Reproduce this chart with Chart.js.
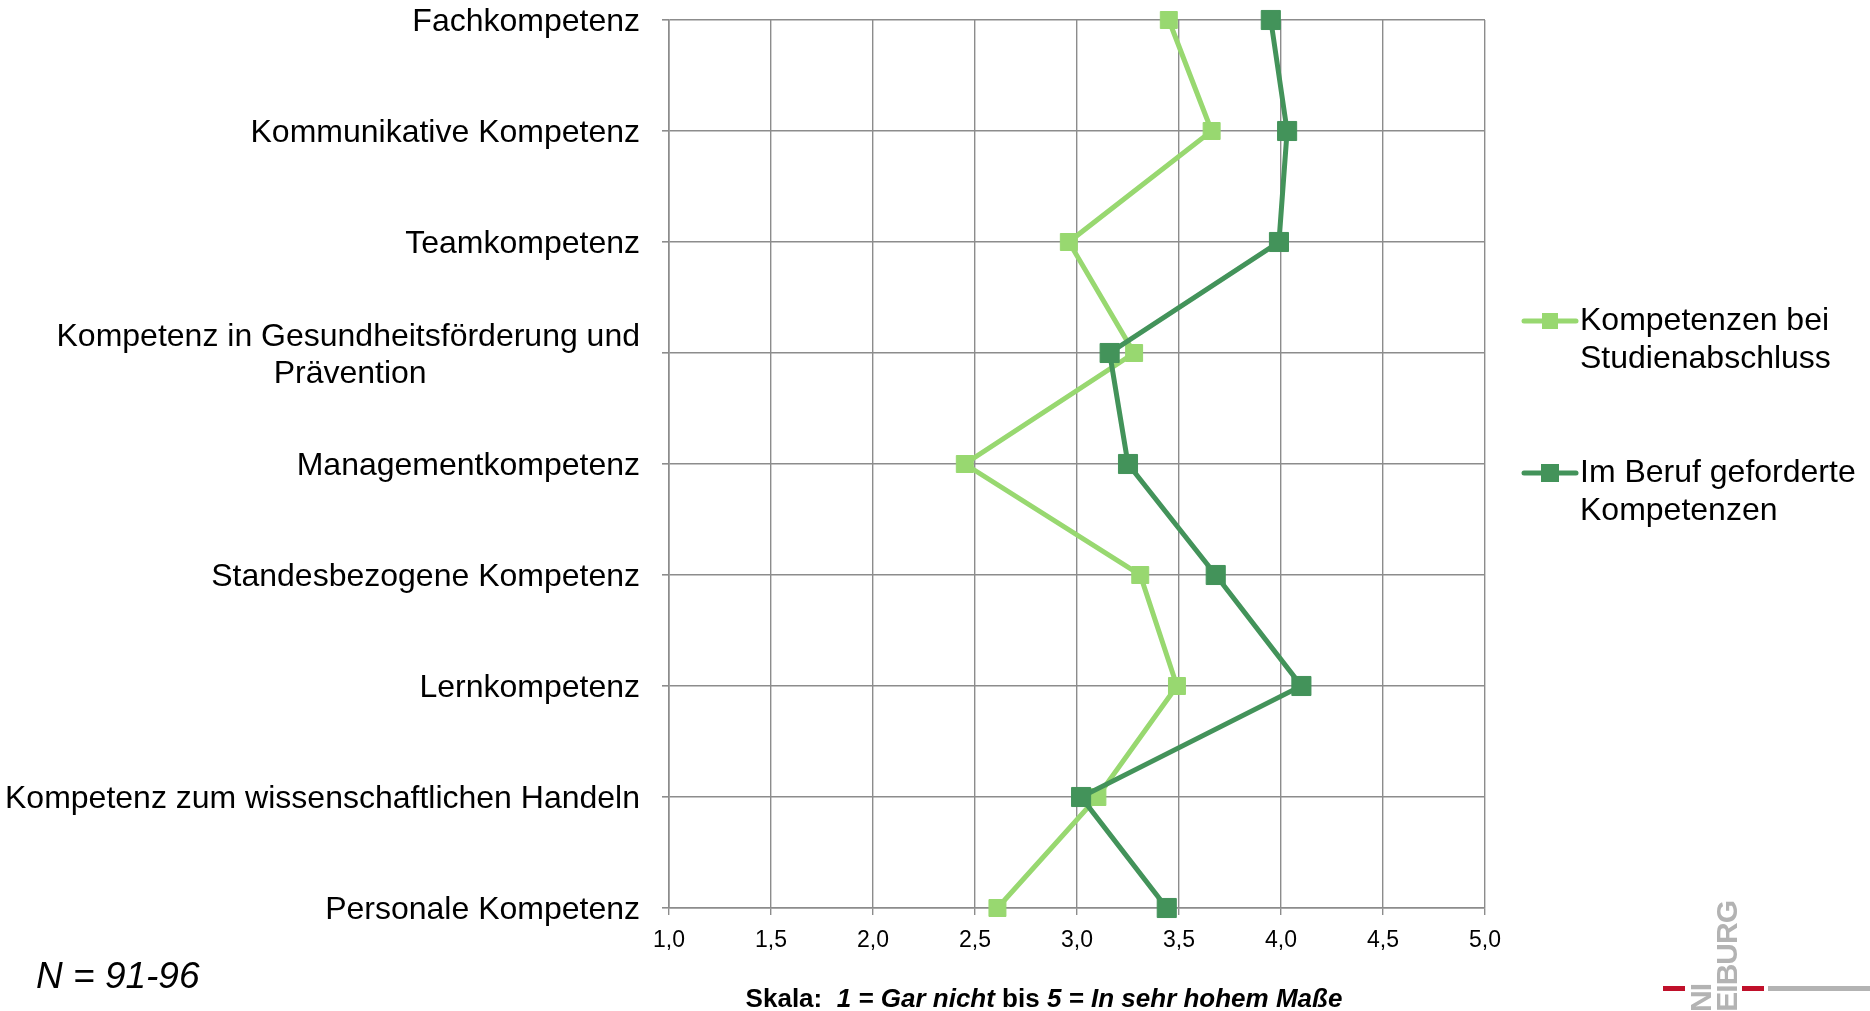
<!DOCTYPE html>
<html lang="de">
<head>
<meta charset="utf-8">
<title>Kompetenzen</title>
<script src="https://cdn.jsdelivr.net/npm/chart.js@4/dist/chart.umd.min.js"></script>
<style>
  html, body { margin: 0; padding: 0; background: #fff; }
  .wrap { position: relative; width: 1870px; height: 1011px; }
</style>
</head>
<body>
<div class="wrap"><canvas id="chart"></canvas></div>
<script>
/* ── DATA ─────────────────────────────────────────────────── */
const categories = [
  'Fachkompetenz',
  'Kommunikative Kompetenz',
  'Teamkompetenz',
  ['Kompetenz in Gesundheitsförderung und', 'Prävention'],
  'Managementkompetenz',
  'Standesbezogene Kompetenz',
  'Lernkompetenz',
  'Kompetenz zum wissenschaftlichen Handeln',
  'Personale Kompetenz'
];
const seriesNames = [
  ['Kompetenzen bei', 'Studienabschluss'],
  ['Im Beruf geforderte', 'Kompetenzen']
];
const studienabschluss = [3.45, 3.66, 2.96, 3.28, 2.45, 3.31, 3.49, 3.10, 2.61];
const beruf = [3.95, 4.03, 3.99, 3.16, 3.25, 3.68, 4.10, 3.02, 3.44];
const scaleMin = 1, scaleMax = 5, scaleStep = 0.5;
const sampleNote = 'N = 91-96';

/* ── STYLE ────────────────────────────────────────────────── */
const FONT = "'Liberation Sans', Arial, sans-serif";
const LIGHT = '#98d870';
const DARK = '#43935a';
const GRID = '#8c8c8c';

// right-aligned block, but centre the lines of a wrapped label inside it
const measureCtx = document.createElement('canvas').getContext('2d');
function centreLines(lines, font) {
  if (!Array.isArray(lines)) return lines;
  measureCtx.font = font;
  const w = lines.map(l => measureCtx.measureText(l).width);
  const max = Math.max(...w);
  const sp = measureCtx.measureText(' ').width;
  return lines.map((l, i) => l + ' '.repeat(Math.round((max - w[i]) / 2 / sp)));
}

/* ── PLUGIN: legend, notes, logo ──────────────────────────── */
const extras = {
  id: 'extras',
  afterDraw(chart) {
    const ctx = chart.ctx;
    ctx.save();

    // legend
    const legendY = [321, 473];
    chart.data.datasets.forEach((ds, i) => {
      const y = legendY[i];
      ctx.strokeStyle = ds.borderColor;
      ctx.lineWidth = 5;
      ctx.lineCap = 'round';
      ctx.beginPath();
      ctx.moveTo(1524, y);
      ctx.lineTo(1576, y);
      ctx.stroke();
      ctx.fillStyle = ds.borderColor;
      const s = i === 0 ? 16 : 18;
      ctx.fillRect(1550 - s / 2, y - s / 2, s, s);
      ctx.fillStyle = '#000';
      ctx.font = '32px ' + FONT;
      ctx.textAlign = 'left';
      ctx.textBaseline = 'middle';
      seriesNames[i].forEach((t, k) => ctx.fillText(t, 1580, y + k * 38));
    });

    // N note
    ctx.font = 'italic 37px ' + FONT;
    ctx.fillStyle = '#000';
    ctx.textAlign = 'left';
    ctx.textBaseline = 'middle';
    ctx.fillText(sampleNote, 36, 978);

    // scale note, mixed bold / bold italic
    const parts = [
      ['Skala:  ', false], ['1 = Gar nicht', true], [' bis ', false], ['5 = In sehr hohem Maße', true]
    ];
    const fnt = it => (it ? 'italic ' : '') + 'bold 26px ' + FONT;
    let total = 0;
    parts.forEach(p => { ctx.font = fnt(p[1]); total += ctx.measureText(p[0]).width; });
    let x = 1044 - total / 2;
    parts.forEach(p => {
      ctx.font = fnt(p[1]);
      ctx.fillText(p[0], x, 1000);
      x += ctx.measureText(p[0]).width;
    });

    // logo fragment
    ctx.fillStyle = '#b3b3b3';
    ctx.font = 'bold 30px ' + FONT;
    if ('letterSpacing' in ctx) ctx.letterSpacing = '-1px';
    ctx.textBaseline = 'alphabetic';
    ctx.textAlign = 'right';
    ctx.save();
    ctx.translate(1737, 901);
    ctx.rotate(-Math.PI / 2);
    ctx.fillText('FREIBURG', 0, 0);
    ctx.restore();
    ctx.save();
    ctx.translate(1711, 984);
    ctx.rotate(-Math.PI / 2);
    ctx.fillText('UNI', 0, 0);
    ctx.restore();
    if ('letterSpacing' in ctx) ctx.letterSpacing = '0px';
    ctx.fillStyle = '#c0102a';
    ctx.fillRect(1663, 986, 22, 5);
    ctx.fillRect(1742, 986, 22, 5);
    ctx.fillStyle = '#b3b3b3';
    ctx.fillRect(1768, 986, 102, 5);

    ctx.restore();
  }
};

/* ── CHART ────────────────────────────────────────────────── */
const labelFont = { family: FONT, size: 32, lineHeight: 1.15 };
const labelFontStr = '32px ' + FONT;

new Chart(document.getElementById('chart'), {
  type: 'line',
  data: {
    labels: categories,
    datasets: [
      {
        label: seriesNames[0].join(' '),
        data: studienabschluss,
        borderColor: LIGHT,
        backgroundColor: LIGHT,
        borderWidth: 5,
        pointStyle: 'rect',
        pointRadius: 12,
        pointBorderWidth: 1,
        order: 2,
        clip: false
      },
      {
        label: seriesNames[1].join(' '),
        data: beruf,
        borderColor: DARK,
        backgroundColor: DARK,
        borderWidth: 5,
        pointStyle: 'rect',
        pointRadius: 13.5,
        pointBorderWidth: 1,
        order: 1,
        clip: false
      }
    ]
  },
  options: {
    indexAxis: 'y',
    responsive: true,
    maintainAspectRatio: false,
    animation: false,
    layout: { padding: { left: 0, top: 20, right: 385, bottom: 43 } },
    plugins: {
      legend: { display: false },
      tooltip: { enabled: false }
    },
    scales: {
      y: {
        type: 'category',
        grid: { color: GRID, lineWidth: 1.6, tickLength: 7 },
        border: { color: GRID, width: 1.6 },
        ticks: {
          autoSkip: false,
          color: '#000',
          font: labelFont,
          padding: 22,
          labelOffset: 2.5,
          callback(v, i) { return centreLines(categories[i], labelFontStr); }
        },
        afterFit(s) { s.width = 669; s.paddingTop = 0; s.paddingBottom = 0; }
      },
      x: {
        type: 'linear',
        min: scaleMin,
        max: scaleMax,
        grid: { color: GRID, lineWidth: 1.4, tickLength: 7 },
        border: { color: GRID, width: 1.6 },
        ticks: {
          stepSize: scaleStep,
          color: '#000',
          font: { family: FONT, size: 23 },
          padding: 12,
          maxRotation: 0,
          callback: v => v.toFixed(1).replace('.', ',')
        },
        // tall enough that the comma tails are not clipped by the label area
        afterFit(s) { s.height = 60; s.paddingLeft = 0; s.paddingRight = 0; }
      }
    }
  },
  plugins: [extras]
});
</script>
</body>
</html>
